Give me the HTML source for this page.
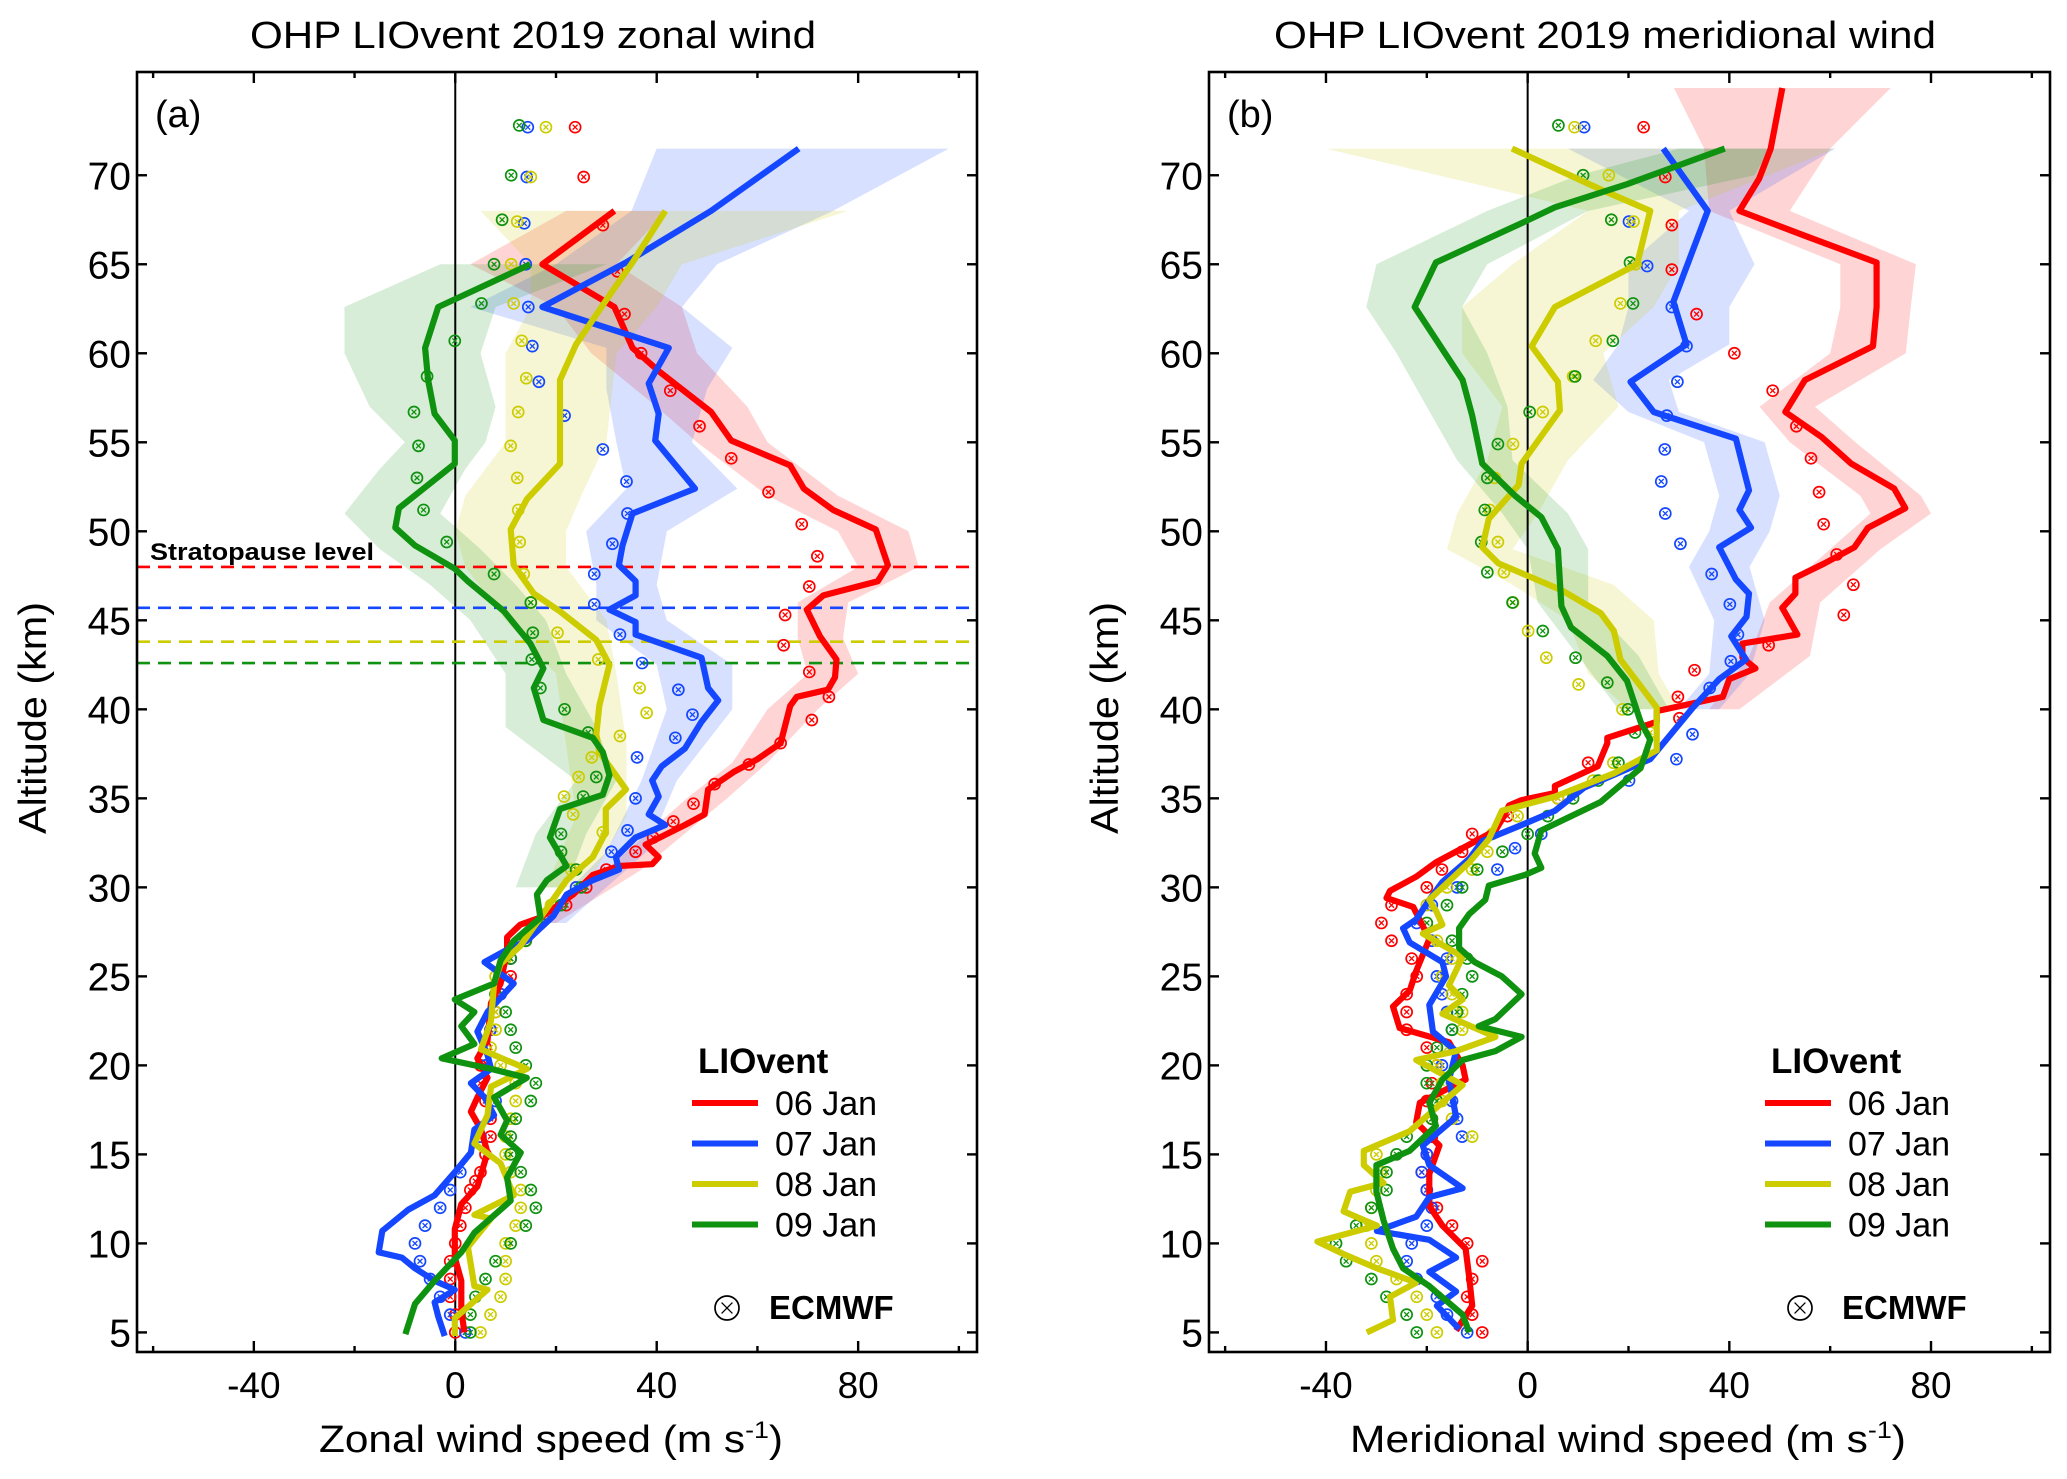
<!DOCTYPE html>
<html><head><meta charset="utf-8">
<style>
html,body{margin:0;padding:0;background:#fff;}
svg{display:block;font-family:"Liberation Sans",Arial,sans-serif;}
</style></head>
<body>
<svg id="fig" width="2067" height="1479" viewBox="0 0 2067 1479" xmlns="http://www.w3.org/2000/svg"></svg>
<script>
// ---------- shared axis data ----------
const xTicks = [-40, 0, 40, 80];
const xMinorTicks = [-60, -20, 20, 60, 100];
const yTicks = [5,10,15,20,25,30,35,40,45,50,55,60,65,70];
const seriesNames = ["06 Jan","07 Jan","08 Jan","09 Jan"];
const seriesColors = ["#ff0000","#1447ff","#cccc00","#0f920f"];
const stratopauseAlt = [48.0, 45.7, 43.8, 42.6];

// ---------- zonal (a) lidar profiles: [x, alt] ----------
const zRed = [[31.6,68],[17.3,65],[31.6,62.6],[35.2,60.3],[40.4,59],[50.8,56.7],[54.8,55.1],[66.5,53.7],[69.2,52.4],[75,51.2],[83.5,50.1],[85.9,48.1],[83.9,47.2],[73.1,46.4],[69.8,45.6],[72.4,44.1],[75.7,42.8],[75.4,41.8],[74,41.1],[67.8,40.7],[66.5,40.2],[64.6,38.1],[60,37.2],[55.4,36.5],[50.2,35.5],[49.5,34.1],[45.6,33.5],[37.8,32.4],[40.4,31.7],[39.1,31.3],[32.5,31.2],[27.3,30.7],[23.4,29.6],[16.9,28.3],[12.9,27.9],[10.3,27.2],[10.3,26.5],[9,24.6],[7.1,23.5],[6.4,21.4],[4.4,20.4],[6.4,19.3],[4.4,18.2],[3.1,17.4],[5.1,16.4],[6.4,15.1],[4.4,13.2],[1.2,12.2],[-0.1,10.8],[-0.1,9.2],[1.2,7.9],[1.2,6.3],[1.8,5]];
const zBlue = [[68.2,71.5],[50.8,68],[33.9,65.1],[17.3,62.6],[42.4,60.3],[38.4,58.3],[40.4,56.6],[39.7,55.1],[47.6,52.4],[35.2,51],[33.2,49.2],[32.5,48.1],[35.8,47.2],[35.8,46.4],[30.6,45.6],[35.8,44.9],[35.8,44.2],[48.9,42.9],[50.2,41.2],[52.2,40.5],[48.9,39.3],[45.6,37.8],[41,36.8],[39.1,36],[40.4,35.1],[38.4,34.1],[41.7,33.5],[35.8,32.8],[31.9,31.7],[32.5,31],[27.3,30.4],[22.1,29.6],[19.5,28.4],[14.2,27],[10.3,26.5],[5.8,25.8],[11.6,24.6],[6.4,23],[4.4,21.9],[6.4,20.6],[7.1,19.8],[3.1,19],[5.8,18.2],[7.7,17.2],[3.8,16.4],[3.1,15.1],[-0.1,14],[-4.1,12.7],[-9.3,11.9],[-14.5,10.7],[-15.2,9.5],[-10.6,9.2],[-8,8.6],[-4.1,7.9],[-0.1,7.4],[-4.1,6.7],[-3.4,5.9],[-2.1,4.8]];
const zYellow = [[41.7,68],[35.2,65.1],[31.2,63.5],[24,60.5],[20.8,58.5],[20.8,55.1],[20.8,53.8],[14.2,51.8],[11,50.1],[11.6,48.1],[15.6,46.5],[20.8,45.5],[28,43.9],[30.6,42.5],[28.6,40.2],[28,38.6],[28.6,37.6],[33.9,35.5],[29.9,34.4],[29.9,33.1],[27.3,31.7],[22.1,30.4],[16.9,28.3],[12.9,26.7],[9,25.7],[7.7,24.6],[7.1,22.5],[5.1,20.9],[14.2,19.8],[7.1,18.8],[6.4,17.2],[3.8,15.6],[9,14.5],[11.6,12.7],[3.8,11.6],[7.1,11.4],[2.5,9.8],[3.8,7.6],[6.4,7.4],[-0.1,5.8],[-0.1,4.8]];
const zGreen = [[14.9,65],[-3.4,62.6],[-6,60.3],[-5.4,58.5],[-4.1,56.6],[-0.1,55.1],[-0.1,53.8],[-11.2,51.3],[-11.9,50.2],[-8,49.2],[-0.1,47.9],[2.5,47.2],[9.7,45.5],[14.9,43.7],[17.5,42.3],[15.6,41.2],[17.5,39.4],[27.3,38.4],[29.3,37.6],[30.6,36.3],[29.3,35.2],[20.8,34.4],[18.8,32.8],[22.1,31.2],[18.2,30.4],[16.2,29.6],[16.9,28.3],[11.6,27],[9,25.9],[7.7,24.6],[-0.1,23.7],[3.8,23],[1.2,22.2],[3.8,21.2],[-2.7,20.4],[7.1,19.8],[14.2,19.3],[7.7,18.2],[10.3,16.9],[9,16.1],[13,15.1],[10.3,13.7],[11,12.4],[3.8,10.6],[1.2,9.5],[-4.1,7.9],[-8,6.6],[-9.9,4.9]];

// ---------- zonal uncertainty bands: [alt, low, high] ----------
const zRedBand = [[68,22,42],[65,3,32],[62.6,20,45],[60,27,48],[57,40,58],[55,48,62],[52,62,76],[50,76,90],[48,80,92],[46,68,78],[44,68,77],[42,70,80],[40,62,72],[37,55,62],[35,46,54],[31,30,37],[28,14,20]];
const zBlueBand = [[71.5,40,98],[68,35,75],[65,20,52],[62.6,3,45],[60.3,30,55],[58,30,50],[55,32,47],[52.4,34,56],[50,26,42],[47,28,40],[45,28,42],[42.5,40,55],[40,42,55],[36,37,44],[32,30,38],[28,16,22]];
const zYellowBand = [[68,5,78],[65,15,45],[62.6,15,40],[60,10,32],[55,10,30],[52,2,25],[50,0,22],[48,2,22],[45,10,30],[42,20,32],[38,22,34],[34,24,34],[30,18,26]];
const zGreenBand = [[65,-3,30],[62.6,-22,8],[60,-22,5],[57,-17,8],[55,-10,6],[53.5,-15,2],[51,-22,-3],[49,-15,5],[47,-5,12],[45,3,18],[42,10,22],[39,10,28],[36,24,32],[33,16,26],[30,12,22]];

// ---------- zonal ECMWF points: [x, alt] ----------
const zRedDots = [[23.8,72.7],[25.5,69.9],[29.3,67.2],[32.2,64.6],[33.6,62.2],[36.9,60],[42.7,57.9],[48.5,55.9],[54.8,54.1],[62.2,52.2],[68.8,50.4],[71.9,48.6],[70.3,46.9],[65.5,45.3],[65.2,43.6],[70.3,42.1],[74.2,40.7],[70.8,39.4],[64.6,38.1],[58.3,36.9],[51.5,35.8],[47.3,34.7],[43.3,33.7],[39.3,32.8],[35.8,32],[30,31],[26,30],[22,29],[18,28.5],[14,27],[11,26],[11,25],[9,24],[8,23],[7,22],[6,21],[5,20],[5,19],[6,18],[7,17],[7,16],[6,15],[5,14],[4,13.5],[3,13],[2,12],[1,11],[0,10],[-1,9],[-1,8],[-1,7],[0,6],[0,5]];
const zBlueDots = [[14.4,72.7],[14.2,69.9],[13.7,67.3],[14,65],[14.5,62.6],[15.3,60.4],[16.6,58.4],[21.7,56.5],[29.3,54.6],[34,52.8],[34.2,51],[31.2,49.3],[27.6,47.6],[27.6,45.9],[32.7,44.2],[37.1,42.6],[44.3,41.1],[47.1,39.7],[43.7,38.4],[36.1,37.3],[35.8,35],[34.2,33.2],[31,32],[24,30],[17,28],[11,26],[9,24],[7,22],[6,20],[8,18],[5,16],[1,14],[-1,13],[-3,12],[-6,11],[-8,10],[-7,9],[-5,8],[-3,7],[-1,6],[2,5]];
const zYellowDots = [[18,72.7],[15,69.9],[12.3,67.4],[11.1,65],[11.6,62.8],[13.2,60.7],[14.1,58.6],[12.5,56.7],[11,54.8],[12.3,53],[12.5,51.2],[12.8,49.4],[13.6,47.6],[15,46],[20.3,44.3],[28.4,42.8],[36.6,41.2],[38,39.8],[32.7,38.5],[27.1,37.3],[24.5,36.2],[21.6,35.1],[23.4,34.1],[29.3,33.1],[23,31],[19,29],[16,28],[14,27],[10,26],[8,25],[8,24],[8,23],[8,22],[7,21],[9,20],[12,19],[12,18],[11,17],[10,16],[10,15],[11,14],[13,13],[13,12],[12,11],[10,10],[10,9],[10,8],[9,7],[7,6],[5,5]];
const zGreenDots = [[12.7,72.8],[11.1,70],[9.3,67.5],[7.7,65],[5.2,62.8],[-0.1,60.7],[-5.6,58.7],[-8.2,56.7],[-7.3,54.8],[-7.6,53],[-6.3,51.2],[-1.7,49.4],[7.7,47.6],[15,46],[15.4,44.3],[15.2,42.8],[16.9,41.2],[21.7,40],[26.4,38.7],[28,36.2],[25.4,35.1],[21,33],[21,32],[24,31],[25,30],[21,29],[17,28],[14,27],[11,26],[9,25],[8,24],[10,23],[11,22],[12,21],[14,20],[16,19],[15,18],[12,17],[11,16],[11,15],[13,14],[15,13],[16,12],[14,11],[11,10],[8,9],[6,8],[4,7],[3,6],[3,5]];

// ---------- meridional (b) lidar profiles ----------
const mRed = [[50.5,74.9],[48.2,71.5],[45.9,69.8],[42,68],[55,66.6],[69.2,65.1],[69.2,62.6],[68.5,60.4],[55,58.5],[51.1,56.7],[58.3,55.3],[64.2,53.8],[72.7,52.4],[74.9,51.3],[67.5,50.2],[64.8,49.1],[58.9,48.2],[53.1,47.4],[53.1,46.5],[50.5,45.7],[53.5,44.2],[42.6,43.7],[42.6,42.9],[45.2,42.3],[40,41.7],[38.7,40.7],[25.6,39.9],[25.6,39.3],[15.8,38.4],[15.8,38.1],[13.9,36.8],[5.4,35.7],[5.4,35.3],[-1.2,34.9],[-3.7,34.6],[-5.1,33.8],[-6.4,33.2],[-11.6,32.4],[-18.2,31.4],[-22.1,30.6],[-27.3,29.8],[-28,29.4],[-22.7,28.9],[-19.5,27.1],[-22.1,25.3],[-23.4,24.2],[-26.7,23.3],[-25.4,22.1],[-15.6,21.3],[-12.9,20],[-12.3,19.2],[-21.4,17.9],[-22.1,16.8],[-17.5,15.5],[-19.5,13.9],[-19.5,12.1],[-16.9,11],[-12.3,9.7],[-11.6,8.1],[-11,6.5],[-14.2,5.1]];
const mBlue = [[26.9,71.5],[35.7,68],[28.9,62.9],[31.5,60.5],[20.4,58.4],[25,56.7],[41.3,55.2],[43.9,52.3],[42,51.2],[44.3,50.2],[38,49.1],[41.3,47.3],[43.9,46.5],[43.4,45.2],[40.4,44.1],[43.3,42.8],[38,41.7],[32.8,40.1],[24.3,37.2],[11.2,35.6],[5.4,34.3],[-1.2,33.5],[-9,32.6],[-11.6,31.6],[-16.9,30.3],[-19.5,29.3],[-22.1,28.2],[-24.7,27.7],[-23.4,26.9],[-16.9,25.8],[-16.2,25],[-19.5,23.4],[-18.8,21.9],[-14.2,20.8],[-15.6,19.2],[-14.2,17.1],[-20.8,15.5],[-19.5,14.4],[-12.9,13.1],[-19.5,12.6],[-22.1,11.5],[-29.9,10.7],[-19.5,10.2],[-14.2,9.2],[-19.5,8.4],[-14.2,7.3],[-18,6.5],[-13.6,5.2]];
const mYellow = [[-3.1,71.5],[14.5,69.2],[24.3,68],[21.7,65],[5.4,62.6],[0.8,60.4],[6,58.4],[6.4,56.8],[-1.2,53.8],[-1.8,52.6],[-7.7,50.7],[-9,49.1],[-5.8,48.2],[6.7,46.7],[14.5,45.4],[17.1,44.4],[18.4,42.8],[25.6,40.1],[25.6,37.7],[17.1,36.4],[5.4,35.1],[-5.1,34.3],[-7.7,32.7],[-11.6,31.4],[-16.9,30],[-19.5,29.3],[-18.2,28.7],[-16.9,27.9],[-20.8,27.4],[-12.9,26.1],[-15.6,24.5],[-12.9,23.7],[-16.9,22.9],[-6.4,21.6],[-14.2,20.8],[-22.1,20.3],[-12.9,18.9],[-18.2,17.6],[-23.4,16.3],[-32.5,15.2],[-32.5,14.4],[-28.6,13.4],[-35.2,12.9],[-36.5,11.8],[-29.9,11],[-41.7,10.1],[-36.5,9.4],[-29.9,8.6],[-22.1,7.8],[-27.3,7],[-26.7,5.7],[-31.9,5]];
const mGreen = [[39.1,71.5],[19.7,69.5],[5.4,68.2],[-0.5,67.4],[-18.2,65.1],[-22.4,62.6],[-12.9,58.5],[-11,56.5],[-9,53.8],[-2.5,52],[2.7,50.8],[6,49],[6.7,45.8],[8.6,44.6],[15.8,43],[19.7,41.6],[22.4,39.3],[24.3,38.3],[22.4,36.7],[14.5,34.8],[2.7,33.2],[1.4,31.9],[2.7,31.1],[-0.5,30.7],[-7.7,30.1],[-8.4,29.3],[-11.6,28.5],[-13.6,27.7],[-13.6,26.6],[-10.5,25.8],[-5.1,25],[-1.2,24],[-6.4,22.6],[-9.7,22.2],[-1.2,21.6],[-6.4,20.8],[-12.9,20.3],[-16.9,19.2],[-19.5,17.9],[-18.2,16.6],[-23.4,15.2],[-30,14.4],[-30,12.9],[-28.6,11.3],[-26.7,9.7],[-24.7,8.6],[-19.5,7.6],[-12.9,6],[-11.6,5]];

// ---------- meridional bands ----------
const mRedBand = [[74.9,29,72],[71.5,35,60],[68,36,52],[65,62,77],[62.6,62,76],[60,60,75],[57,46,57],[55,52,65],[52,66,78],[51,68,80],[49,60,70],[46,48,58],[43,44,56],[40,36,42]];
const mBlueBand = [[71.5,8,61],[68,32,40],[65,20,45],[62.6,20,40],[60.5,18,40],[58.5,13,28],[56.7,20,30],[55,35,47],[52,38,50],[50,36,48],[48,32,44],[45,37,47],[42,36,44],[40,30,38]];
const mYellowBand = [[71.5,-40,61],[68,12,30],[65,-3,30],[62.6,-13,25],[60,-13,15],[57,-5,18],[54,-8,8],[51,-14,2],[49,-16,-3],[47,-3,17],[45,8,25],[42,12,26],[40,20,30]];
const mGreenBand = [[71.5,30,48],[70,10,45],[68,-8,12],[65,-30,-8],[62.6,-32,-13],[60,-26,-8],[57,-20,-4],[54,-14,-3],[51,-5,8],[49,0,12],[46,2,12],[43,10,22],[40,18,28]];

// ---------- meridional ECMWF points ----------
const mRedDots = [[23,72.7],[27.3,69.9],[28.6,67.2],[28.6,64.7],[33.5,62.2],[41,60],[48.6,57.9],[53.3,55.9],[56.2,54.1],[57.8,52.2],[58.7,50.4],[61.3,48.7],[64.6,47],[62.7,45.3],[47.8,43.6],[33.1,42.2],[29.8,40.7],[30.1,39.5],[12,37],[6,35],[-4,34],[-11,33],[-13,32],[-17,31],[-20,30],[-27,29],[-29,28],[-27,27],[-23,26],[-22,25],[-24,24],[-24,23],[-24,22],[-20,21],[-18,20],[-19,19],[-20,18],[-19,17],[-19,16],[-20,15],[-21,14],[-20,13],[-18,12],[-15,11],[-12,10],[-9,9],[-11,8],[-12,7],[-11,6],[-9,5]];
const mBlueDots = [[11.2,72.7],[20.1,67.4],[23.7,64.9],[28.6,62.6],[31.5,60.4],[29.7,58.4],[27.6,56.5],[27.2,54.6],[26.5,52.8],[27.3,51],[30.3,49.3],[36.5,47.6],[40.1,45.9],[41.7,44.2],[40.3,42.7],[36.1,41.2],[32.7,38.6],[29.5,37.2],[20.1,36],[2.7,33],[-2.5,32.2],[-6,31],[-14,30],[-19,29],[-22,28],[-19,27],[-16,26],[-18,25],[-17,24],[-16,23],[-15,22],[-16,21],[-17,20],[-15,19],[-15,18],[-14,17],[-13,16],[-20,15],[-21,14],[-20,13],[-19,12],[-20,11],[-23,10],[-24,9],[-22,8],[-18,7],[-16,6],[-12,5]];
const mYellowDots = [[9.3,72.7],[16.1,70],[21,67.4],[21.4,65],[18.4,62.8],[13.5,60.7],[9,58.7],[3,56.7],[-2.9,54.9],[-6.5,53],[-7.5,51.2],[-5.9,49.4],[-4.7,47.7],[-2.9,46],[0.1,44.4],[3.7,42.9],[10.1,41.4],[18.8,40],[24.3,38.7],[17,37],[13,36],[6,35],[-2,34],[-7,33],[-8,32],[-11,31],[-16,30],[-20,29],[-20,28],[-18,27],[-15,26],[-17,25],[-15,24],[-13,23],[-13,22],[-16,21],[-18,20],[-17,19],[-17,18],[-15,17],[-11,16],[-30,15],[-29,14],[-30,13],[-31,12],[-32,11],[-31,10],[-30,9],[-26,8],[-22,7],[-20,6],[-18,5]];
const mGreenDots = [[6.1,72.8],[11,70],[16.6,67.5],[20.3,65.1],[20.9,62.8],[16.9,60.7],[9.4,58.7],[0.4,56.7],[-5.9,54.9],[-8,53],[-8.5,51.2],[-9.2,49.4],[-8,47.7],[-3,46],[3,44.4],[9.5,42.9],[15.8,41.5],[19.9,40],[21.3,38.7],[18,37],[14,36],[9,35],[4,34],[0,33],[-5,32],[-10,31],[-13,30],[-16,29],[-20,28],[-15,27],[-12,26],[-11,25],[-13,24],[-14,23],[-15,22],[-18,21],[-20,20],[-20,19],[-18,18],[-19,17],[-24,16],[-26,15],[-28,14],[-28,13],[-31,12],[-34,11],[-38,10],[-36,9],[-31,8],[-28,7],[-24,6],[-22,5]];

// ---------- drawing ----------
const NS = "http://www.w3.org/2000/svg";
const svg = document.getElementById("fig");
const X_MIN = -63.2, X_MAX = 103.6, Y_MIN = 3.9, Y_MAX = 75.8;
const TOP = 72, BOTTOM = 1352;

function el(tag, attrs, parent) {
  const e = document.createElementNS(NS, tag);
  for (const k in attrs) e.setAttribute(k, attrs[k]);
  (parent || svg).appendChild(e);
  return e;
}
function makeAxes(left, right) {
  return {
    x: v => left + (v - X_MIN) / (X_MAX - X_MIN) * (right - left),
    y: a => BOTTOM - (a - Y_MIN) / (Y_MAX - Y_MIN) * (BOTTOM - TOP),
    left, right
  };
}
function pathFrom(points, ax) {
  return points.map((p, i) => (i ? "L" : "M") + ax.x(p[0]).toFixed(1) + "," + ax.y(p[1]).toFixed(1)).join(" ");
}
function bandPath(band, ax) {
  const up = band.map(b => ax.x(b[2]).toFixed(1) + "," + ax.y(b[0]).toFixed(1));
  const lo = band.slice().reverse().map(b => ax.x(b[1]).toFixed(1) + "," + ax.y(b[0]).toFixed(1));
  return "M" + up.join(" L") + " L" + lo.join(" L") + " Z";
}
function ecmwfMark(g, cx, cy, color, r) {
  const m = el("g", {}, g);
  el("circle", {cx: cx, cy: cy, r: r, fill: "none", stroke: color, "stroke-width": 1.7}, m);
  const d = r * 0.45;
  el("path", {d: `M${cx-d},${cy-d}L${cx+d},${cy+d}M${cx+d},${cy-d}L${cx-d},${cy+d}`, stroke: color, "stroke-width": 1.3}, m);
  return m;
}

function drawPanel(cfg) {
  const ax = makeAxes(cfg.left, cfg.right);
  const g = el("g", {});
  
  

  cfg.bands.forEach((b, i) => {
    const p = el("path", {d: bandPath(b, ax), fill: seriesColors[i], "fill-opacity": 0.17, stroke: "none"}, g);
    
    
  });
  const z = el("line", {x1: ax.x(0), x2: ax.x(0), y1: TOP, y2: BOTTOM, stroke: "#000", "stroke-width": 2}, g);
  
  

  if (cfg.strato) {
    stratopauseAlt.forEach((a, i) => {
      const l = el("line", {x1: ax.left, x2: ax.right, y1: ax.y(a), y2: ax.y(a), stroke: seriesColors[i], "stroke-width": 2.6, "stroke-dasharray": "13,8"}, g);
      
      
    });
    const t = el("text", {x: 150, y: ax.y(stratopauseAlt[0]) - 7, "font-size": 24, "font-weight": "bold", textLength: 224, lengthAdjust: "spacingAndGlyphs"}, g);
    t.textContent = "Stratopause level";
    
    
  }
  cfg.dots.forEach((ds, i) => {
    const dg = el("g", {}, g);
    
    
    ds.forEach(p => ecmwfMark(dg, ax.x(p[0]), ax.y(p[1]), seriesColors[i], 5.5));
  });
  cfg.lines.forEach((ln, i) => {
    const p = el("path", {d: pathFrom(ln, ax), fill: "none", stroke: seriesColors[i], "stroke-width": 6.2, "stroke-linejoin": "round", "stroke-linecap": "butt"}, g);
    
    
  });

  const fr = el("rect", {x: ax.left, y: TOP, width: ax.right - ax.left, height: BOTTOM - TOP, fill: "none", stroke: "#000", "stroke-width": 2.6}, g);
  
  

  const tg = el("g", {stroke: "#000", "stroke-width": 2.4}, g);
  
  
  xTicks.forEach(v => {
    const x = ax.x(v);
    el("line", {x1: x, x2: x, y1: BOTTOM, y2: BOTTOM - 11}, tg);
    el("line", {x1: x, x2: x, y1: TOP, y2: TOP + 11}, tg);
    const t = el("text", {x: x, y: 1398, "font-size": 37, "text-anchor": "middle", stroke: "none", fill: "#000"}, g);
    t.textContent = v;
    
    
  });
  xMinorTicks.forEach(v => {
    const x = ax.x(v);
    el("line", {x1: x, x2: x, y1: BOTTOM, y2: BOTTOM - 6}, tg);
    el("line", {x1: x, x2: x, y1: TOP, y2: TOP + 6}, tg);
  });
  yTicks.forEach(v => {
    const y = ax.y(v);
    el("line", {x1: ax.left, x2: ax.left + 10, y1: y, y2: y}, tg);
    el("line", {x1: ax.right, x2: ax.right - 10, y1: y, y2: y}, tg);
    const t = el("text", {x: ax.left - 6, y: y + 14, "font-size": 39, "text-anchor": "end", fill: "#000"}, g);
    t.textContent = v;
    
    
  });

  const ti = el("text", {x: cfg.titleX, y: 48, "font-size": 38, "text-anchor": "middle", textLength: cfg.titleW, lengthAdjust: "spacingAndGlyphs"}, g);
  ti.textContent = cfg.title;
  
  

  const pl = el("text", {x: ax.left + 18, y: 127, "font-size": 38}, g);
  pl.textContent = cfg.panel;
  
  

  const xl = el("text", {x: cfg.xlabX, y: 1452, "font-size": 38, "text-anchor": "middle", textLength: cfg.xlabW, lengthAdjust: "spacingAndGlyphs"}, g);
  xl.innerHTML = cfg.xlab + ' (m s<tspan dy="-14" font-size="24">-1</tspan><tspan dy="14">)</tspan>';
  
  

  const yl = el("text", {x: 0, y: 0, "font-size": 39, "text-anchor": "middle", transform: `translate(${cfg.ylabX},718) rotate(-90)`, textLength: 232, lengthAdjust: "spacingAndGlyphs"}, g);
  yl.textContent = "Altitude (km)";
  
  

  const lg = el("g", {}, g);
  
  
  const lx = cfg.legX;
  const lh = el("text", {x: lx + 6, y: 1073, "font-size": 35, "font-weight": "bold"}, lg);
  lh.textContent = "LIOvent";
  
  
  seriesNames.forEach((n, i) => {
    const y = 1103 + i * 40.5;
    const e = el("g", {}, lg);
    
    
    el("line", {x1: lx, x2: lx + 66, y1: y, y2: y, stroke: seriesColors[i], "stroke-width": 6}, e);
    const t = el("text", {x: lx + 83, y: y + 12, "font-size": 34}, e);
    t.textContent = n;
  });
  const ee = el("g", {}, lg);
  
  
  ecmwfMark(ee, lx + 35, 1308, "#000", 12);
  const et = el("text", {x: lx + 77, y: 1319, "font-size": 33, "font-weight": "bold"}, ee);
  et.textContent = "ECMWF";
}

drawPanel({name: "zonal-wind-panel", left: 137, right: 977, strato: true,
  bands: [zRedBand, zBlueBand, zYellowBand, zGreenBand],
  lines: [zRed, zBlue, zYellow, zGreen],
  dots: [zRedDots, zBlueDots, zYellowDots, zGreenDots],
  title: "OHP LIOvent 2019 zonal wind", titleX: 533, titleW: 566, panel: "(a)",
  xlab: "Zonal wind speed", xlabX: 551, xlabW: 464, ylabX: 46, legX: 692});
drawPanel({name: "meridional-wind-panel", left: 1209, right: 2050, strato: false,
  bands: [mRedBand, mBlueBand, mYellowBand, mGreenBand],
  lines: [mRed, mBlue, mYellow, mGreen],
  dots: [mRedDots, mBlueDots, mYellowDots, mGreenDots],
  title: "OHP LIOvent 2019 meridional wind", titleX: 1605, titleW: 662, panel: "(b)",
  xlab: "Meridional wind speed", xlabX: 1628, xlabW: 556, ylabX: 1118, legX: 1765});
</script>
</body></html>
